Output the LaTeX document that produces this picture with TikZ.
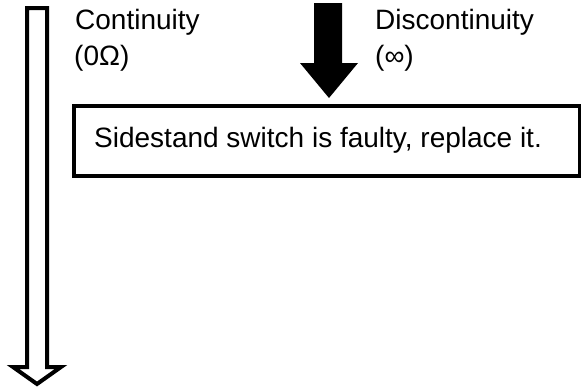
\documentclass[tikz,border=0pt]{standalone}
\usepackage{fontspec}
\setmainfont{Liberation Sans}
\tikzset{
  lbl/.style={anchor=base west, inner sep=0pt, font=\fontsize{28}{36}\selectfont},
  boxline/.style={line width=3.5pt},
  arrowline/.style={line width=4pt, line join=miter},
}
\begin{document}
\begin{tikzpicture}[x=1pt,y=-1pt]
\useasboundingbox (0,0) rectangle (582,388);
% hollow arrow
\draw[arrowline] (27,8) -- (47,8) -- (47,367) -- (61,367) -- (37,384) -- (13,367) -- (27,367) -- cycle;
% filled arrow
\fill[black] (314,3) -- (342,3) -- (342,63) -- (358,63) -- (329,98) -- (300,63) -- (314,63) -- cycle;
% labels
\node[lbl] (cont) at (75,29) {Continuity};
\node[lbl] (ohm) at (74,65) {(0Ω)};
\node[lbl] (disc) at (375,29) {Discontinuity};
\node[lbl] (inf) at (375,65) {(∞)};
% box
\draw[boxline] (74,106) rectangle (579.5,176);
\node[lbl] (msg) at (94,147) {Sidestand switch is faulty, replace it.};
\end{tikzpicture}
\end{document}
